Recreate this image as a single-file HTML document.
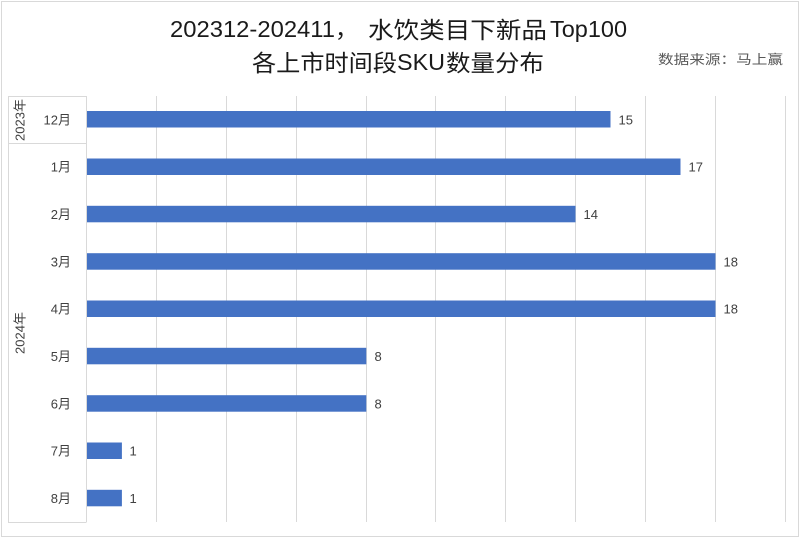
<!DOCTYPE html>
<html>
<head>
<meta charset="utf-8">
<style>
  html, body { margin:0; padding:0; background:#ffffff; }
  body { width:800px; height:538px; overflow:hidden; }
  svg { display:block; }
  .t { font-family:"Liberation Sans","Noto Sans CJK SC",sans-serif; }
</style>
</head>
<body>
<svg width="800" height="538" viewBox="0 0 800 538" xmlns="http://www.w3.org/2000/svg">
  <rect x="0" y="0" width="800" height="538" fill="#ffffff"/>
  <!-- outer border -->
  <rect x="1.5" y="1.5" width="797" height="535" fill="none" stroke="#d9d9d9" stroke-width="1"/>

  <!-- title -->
  <g class="t" font-size="23" fill="#1a1a1a">
    <text x="170" y="37" textLength="165" lengthAdjust="spacingAndGlyphs">202312-202411</text>
    <text x="335" y="37">，</text>
    <text x="368" y="38" textLength="179" lengthAdjust="spacingAndGlyphs">水饮类目下新品</text>
    <text x="550" y="37" textLength="77" lengthAdjust="spacingAndGlyphs">Top100</text>

    <text x="252" y="71" textLength="145" lengthAdjust="spacingAndGlyphs">各上市时间段</text>
    <text x="397" y="70" textLength="48" lengthAdjust="spacingAndGlyphs">SKU</text>
    <text x="446" y="71" textLength="98" lengthAdjust="spacingAndGlyphs">数量分布</text>
  </g>
  <text class="t" x="658" y="64" font-size="13" fill="#595959" textLength="125" lengthAdjust="spacingAndGlyphs">数据来源：马上赢</text>

  <!-- gridlines -->
  <g stroke="#d9d9d9" stroke-width="1">
    <line x1="156.5" y1="96" x2="156.5" y2="522"/>
    <line x1="226.5" y1="96" x2="226.5" y2="522"/>
    <line x1="296.5" y1="96" x2="296.5" y2="522"/>
    <line x1="366.5" y1="96" x2="366.5" y2="522"/>
    <line x1="435.5" y1="96" x2="435.5" y2="522"/>
    <line x1="505.5" y1="96" x2="505.5" y2="522"/>
    <line x1="575.5" y1="96" x2="575.5" y2="522"/>
    <line x1="645.5" y1="96" x2="645.5" y2="522"/>
    <line x1="715.5" y1="96" x2="715.5" y2="522"/>
    <line x1="785.5" y1="96" x2="785.5" y2="522"/>
    <!-- category axis box -->
    <line x1="86.5" y1="96" x2="86.5" y2="522"/>
    <line x1="8" y1="96.5" x2="86.5" y2="96.5"/>
    <line x1="8" y1="143.5" x2="86.5" y2="143.5"/>
    <line x1="8" y1="522.5" x2="86.5" y2="522.5"/>
    <line x1="8.5" y1="96" x2="8.5" y2="522.5"/>
  </g>

  <!-- bars -->
  <g fill="#4472c4">
    <rect x="87" y="111" width="523.5" height="16.5"/>
    <rect x="87" y="158.5" width="593.5" height="16.5"/>
    <rect x="87" y="205.8" width="488.5" height="16.5"/>
    <rect x="87" y="253.2" width="628.5" height="16.5"/>
    <rect x="87" y="300.5" width="628.5" height="16.5"/>
    <rect x="87" y="347.8" width="279.3" height="16.5"/>
    <rect x="87" y="395.2" width="279.3" height="16.5"/>
    <rect x="87" y="442.5" width="34.9" height="16.5"/>
    <rect x="87" y="489.8" width="34.9" height="16.5"/>
  </g>

  <!-- value labels -->
  <g class="t" font-size="13" fill="#404040">
    <text x="618.5" y="124.3">15</text>
    <text x="688.5" y="171.6">17</text>
    <text x="583.5" y="218.9">14</text>
    <text x="723.5" y="266.3">18</text>
    <text x="723.5" y="313.6">18</text>
    <text x="374.5" y="360.9">8</text>
    <text x="374.5" y="408.3">8</text>
    <text x="129.5" y="455.6">1</text>
    <text x="129.5" y="502.9">1</text>
  </g>

  <!-- category labels -->
  <g class="t" font-size="13" fill="#404040" text-anchor="end">
    <text x="71" y="124.3">12月</text>
    <text x="71" y="171.6">1月</text>
    <text x="71" y="218.9">2月</text>
    <text x="71" y="266.3">3月</text>
    <text x="71" y="313.6">4月</text>
    <text x="71" y="360.9">5月</text>
    <text x="71" y="408.3">6月</text>
    <text x="71" y="455.6">7月</text>
    <text x="71" y="502.9">8月</text>
  </g>

  <!-- year labels (rotated) -->
  <g class="t" font-size="13" fill="#404040" text-anchor="middle">
    <text transform="translate(24.5,120) rotate(-90)">2023年</text>
    <text transform="translate(24.5,333) rotate(-90)">2024年</text>
  </g>
</svg>
</body>
</html>
